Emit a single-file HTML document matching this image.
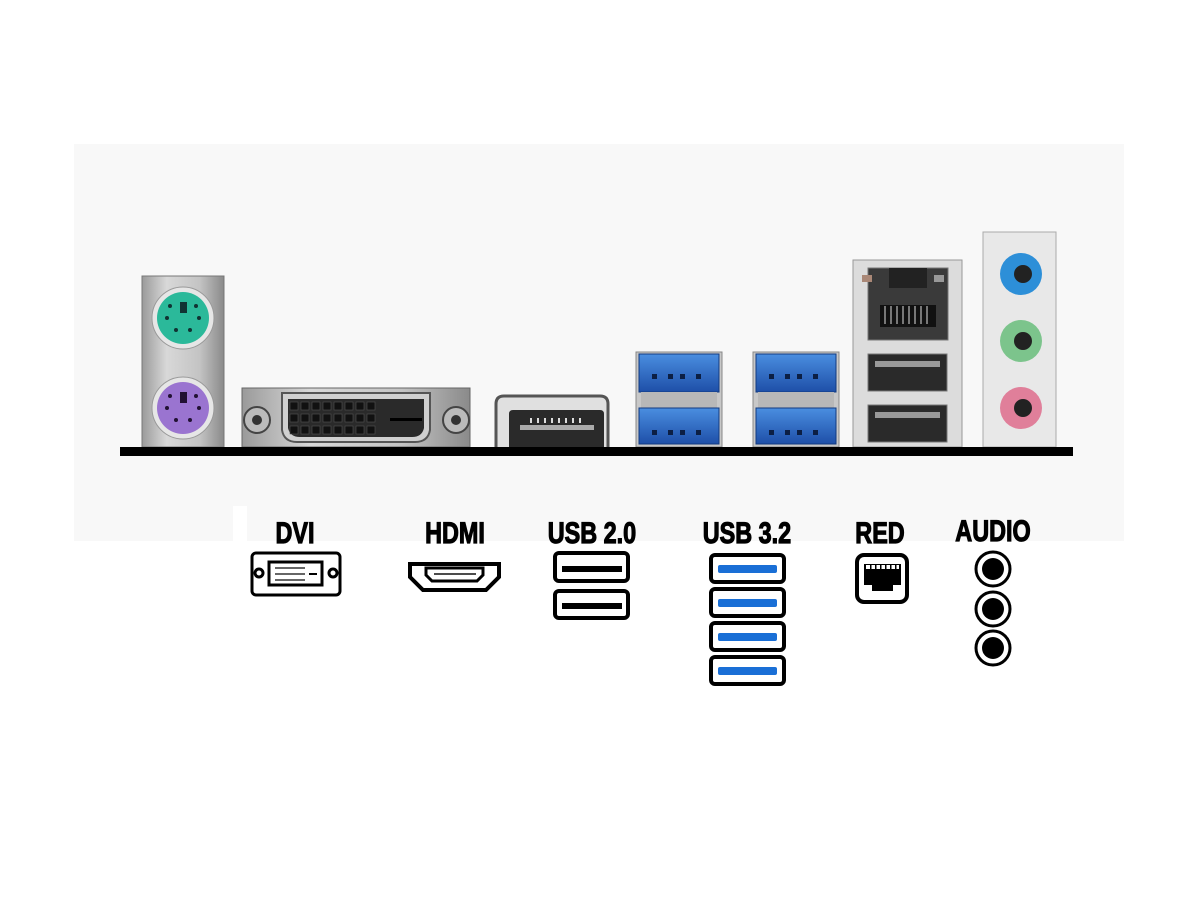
<!DOCTYPE html>
<html><head><meta charset="utf-8"><style>
html,body{margin:0;padding:0;background:#fff;width:1200px;height:900px;overflow:hidden}
text{font-family:"Liberation Sans Narrow","Liberation Sans",sans-serif;font-weight:bold;fill:#000;stroke:#000;stroke-width:1.2}
</style></head><body>
<svg width="1200" height="900" viewBox="0 0 1200 900" xmlns="http://www.w3.org/2000/svg">
<defs>
<linearGradient id="metal" x1="0" x2="1"><stop offset="0" stop-color="#9a9a9a"/><stop offset=".3" stop-color="#d8d8d8"/><stop offset=".7" stop-color="#c4c4c4"/><stop offset="1" stop-color="#8a8a8a"/></linearGradient>
<linearGradient id="blue" x1="0" y1="0" x2="0" y2="1"><stop offset="0" stop-color="#4a8ee0"/><stop offset="1" stop-color="#1e4fa8"/></linearGradient>
</defs>
<rect x="74" y="144" width="1050" height="397" fill="#f8f8f8"/>
<rect x="233" y="506" width="14" height="40" fill="#fff"/>

<rect x="142" y="276" width="82" height="171" fill="url(#metal)" stroke="#777"/>
<circle cx="183" cy="318" r="31" fill="#e6e6e6" stroke="#999"/>
<circle cx="183" cy="318" r="26" fill="#2bb99a"/>
<rect x="180" y="302" width="7" height="11" fill="#133"/>
<g fill="#133"><circle cx="170" cy="306" r="2"/><circle cx="196" cy="306" r="2"/><circle cx="167" cy="318" r="2"/><circle cx="199" cy="318" r="2"/><circle cx="176" cy="330" r="2"/><circle cx="190" cy="330" r="2"/></g>
<circle cx="183" cy="408" r="31" fill="#e6e6e6" stroke="#999"/>
<circle cx="183" cy="408" r="26" fill="#9a74d0"/>
<rect x="180" y="392" width="7" height="11" fill="#213"/>
<g fill="#213"><circle cx="170" cy="396" r="2"/><circle cx="196" cy="396" r="2"/><circle cx="167" cy="408" r="2"/><circle cx="199" cy="408" r="2"/><circle cx="176" cy="420" r="2"/><circle cx="190" cy="420" r="2"/></g>

<rect x="242" y="388" width="228" height="59" fill="url(#metal)" stroke="#666"/>
<circle cx="257" cy="420" r="13" fill="#bbb" stroke="#444" stroke-width="2"/><circle cx="257" cy="420" r="5" fill="#333"/>
<circle cx="456" cy="420" r="13" fill="#bbb" stroke="#444" stroke-width="2"/><circle cx="456" cy="420" r="5" fill="#333"/>
<path d="M282 393 H430 L430 430 Q428 442 415 442 H297 Q284 442 282 430 Z" fill="#d0d0d0" stroke="#555" stroke-width="2"/>
<path d="M288 399 H424 V428 Q422 437 412 437 H300 Q290 437 288 428 Z" fill="#2a2a2a"/>
<g fill="#111" stroke="#555" stroke-width=".6">
<rect x="290" y="402" width="8" height="8"/><rect x="301" y="402" width="8" height="8"/><rect x="312" y="402" width="8" height="8"/><rect x="323" y="402" width="8" height="8"/><rect x="334" y="402" width="8" height="8"/><rect x="345" y="402" width="8" height="8"/><rect x="356" y="402" width="8" height="8"/><rect x="367" y="402" width="8" height="8"/>
<rect x="290" y="414" width="8" height="8"/><rect x="301" y="414" width="8" height="8"/><rect x="312" y="414" width="8" height="8"/><rect x="323" y="414" width="8" height="8"/><rect x="334" y="414" width="8" height="8"/><rect x="345" y="414" width="8" height="8"/><rect x="356" y="414" width="8" height="8"/><rect x="367" y="414" width="8" height="8"/>
<rect x="290" y="426" width="8" height="8"/><rect x="301" y="426" width="8" height="8"/><rect x="312" y="426" width="8" height="8"/><rect x="323" y="426" width="8" height="8"/><rect x="334" y="426" width="8" height="8"/><rect x="345" y="426" width="8" height="8"/><rect x="356" y="426" width="8" height="8"/><rect x="367" y="426" width="8" height="8"/>
</g>
<rect x="390" y="418" width="32" height="3" fill="#000"/>

<path d="M496 447 V404 Q496 396 504 396 H600 Q608 396 608 404 V447" fill="#e0e0e0" stroke="#555" stroke-width="3"/>
<path d="M509 447 V414 Q509 410 513 410 H600 Q604 410 604 414 V447 Z" fill="#2a2a2a"/>
<rect x="520" y="425" width="74" height="5" fill="#aaa"/>
<g fill="#ddd"><rect x="530" y="418" width="2" height="5"/><rect x="537" y="418" width="2" height="5"/><rect x="544" y="418" width="2" height="5"/><rect x="551" y="418" width="2" height="5"/><rect x="558" y="418" width="2" height="5"/><rect x="565" y="418" width="2" height="5"/><rect x="572" y="418" width="2" height="5"/><rect x="579" y="418" width="2" height="5"/></g>

<g id="u3">
<rect x="636" y="352" width="86" height="95" fill="#c8c8c8" stroke="#888"/>
<rect x="639" y="354" width="80" height="38" fill="url(#blue)" stroke="#123a80"/>
<rect x="641" y="392" width="76" height="16" fill="#b8b8b8"/>
<rect x="639" y="408" width="80" height="36" fill="url(#blue)" stroke="#123a80"/>
<g fill="#0c1f44"><rect x="652" y="374" width="5" height="5"/><rect x="668" y="374" width="5" height="5"/><rect x="680" y="374" width="5" height="5"/><rect x="696" y="374" width="5" height="5"/><rect x="652" y="430" width="5" height="5"/><rect x="668" y="430" width="5" height="5"/><rect x="680" y="430" width="5" height="5"/><rect x="696" y="430" width="5" height="5"/></g>
</g>
<use href="#u3" x="117"/>

<rect x="853" y="260" width="109" height="187" fill="#dcdcdc" stroke="#999"/>
<rect x="868" y="268" width="80" height="72" fill="#3a3a3a" stroke="#777"/>
<rect x="889" y="268" width="38" height="20" fill="#222"/>
<rect x="862" y="275" width="10" height="7" fill="#a87"/><rect x="934" y="275" width="10" height="7" fill="#999"/>
<g fill="#111"><rect x="880" y="305" width="56" height="22"/></g>
<g fill="#777"><rect x="884" y="306" width="2" height="18"/><rect x="890" y="306" width="2" height="18"/><rect x="896" y="306" width="2" height="18"/><rect x="902" y="306" width="2" height="18"/><rect x="908" y="306" width="2" height="18"/><rect x="914" y="306" width="2" height="18"/><rect x="920" y="306" width="2" height="18"/><rect x="926" y="306" width="2" height="18"/></g>
<rect x="868" y="354" width="79" height="37" fill="#2a2a2a" stroke="#777"/>
<rect x="875" y="361" width="65" height="6" fill="#999"/>
<rect x="868" y="405" width="79" height="37" fill="#2a2a2a" stroke="#777"/>
<rect x="875" y="412" width="65" height="6" fill="#999"/>

<rect x="983" y="232" width="73" height="215" fill="#e8e8e8" stroke="#aaa"/>
<circle cx="1021" cy="274" r="21" fill="#2d8fd8"/><circle cx="1023" cy="274" r="9" fill="#222"/>
<circle cx="1021" cy="341" r="21" fill="#7cc48c"/><circle cx="1023" cy="341" r="9" fill="#222"/>
<circle cx="1021" cy="408" r="21" fill="#e07f9a"/><circle cx="1023" cy="408" r="9" fill="#222"/>

<rect x="120" y="447" width="953" height="9" fill="#000"/>

<g font-size="30">
<text x="295" y="543" text-anchor="middle" transform="translate(295 0) scale(.78 1) translate(-295 0)">DVI</text>
<text x="455" y="543" text-anchor="middle" transform="translate(455 0) scale(.78 1) translate(-455 0)">HDMI</text>
<text x="592" y="543" text-anchor="middle" transform="translate(592 0) scale(.78 1) translate(-592 0)">USB 2.0</text>
<text x="747" y="543" text-anchor="middle" transform="translate(747 0) scale(.78 1) translate(-747 0)">USB 3.2</text>
<text x="880" y="543" text-anchor="middle" transform="translate(880 0) scale(.78 1) translate(-880 0)">RED</text>
<text x="993" y="541" text-anchor="middle" transform="translate(993 0) scale(.78 1) translate(-993 0)">AUDIO</text>
</g>

<g fill="none" stroke="#000" stroke-width="3">
<rect x="252" y="553" width="88" height="42" rx="4"/>
<rect x="269" y="562" width="53" height="23"/>
<circle cx="259" cy="573" r="4"/><circle cx="333" cy="573" r="4"/>
<path d="M410 564 H499 V577 L486 590 H423 L410 577 Z" stroke-width="4"/>
<path d="M426 568 H483 V575 L477 581 H432 L426 575 Z" stroke-width="3"/>
<rect x="555" y="553" width="73" height="28" rx="4" stroke-width="4"/>
<rect x="555" y="591" width="73" height="27" rx="4" stroke-width="4"/>
<rect x="711" y="555" width="73" height="27" rx="4" stroke-width="4"/>
<rect x="711" y="589" width="73" height="27" rx="4" stroke-width="4"/>
<rect x="711" y="623" width="73" height="27" rx="4" stroke-width="4"/>
<rect x="711" y="657" width="73" height="27" rx="4" stroke-width="4"/>
<rect x="857" y="555" width="50" height="47" rx="7" stroke-width="4"/>
<circle cx="993" cy="569" r="17"/><circle cx="993" cy="609" r="17"/><circle cx="993" cy="648" r="17"/>
</g>
<g fill="#000">
<rect x="562" y="566" width="60" height="6"/><rect x="562" y="603" width="60" height="6"/>
<path d="M864 564 H901 V585 H893 V591 H872 V585 H864 Z"/>
<circle cx="993" cy="569" r="11"/><circle cx="993" cy="609" r="11"/><circle cx="993" cy="648" r="11"/>
</g>
<g fill="#fff"><rect x="866" y="565" width="33" height="4"/></g>
<g fill="#000"><rect x="870" y="565" width="1.5" height="4"/><rect x="875" y="565" width="1.5" height="4"/><rect x="880" y="565" width="1.5" height="4"/><rect x="885" y="565" width="1.5" height="4"/><rect x="890" y="565" width="1.5" height="4"/><rect x="895" y="565" width="1.5" height="4"/></g>
<g fill="#000">
<rect x="275" y="567" width="30" height="2" opacity=".6"/><rect x="275" y="573" width="30" height="2" opacity=".6"/><rect x="275" y="579" width="30" height="2" opacity=".6"/><rect x="309" y="573" width="8" height="2"/>
<rect x="434" y="573" width="42" height="2" opacity=".7"/>
</g>
<g fill="#1a6fd6">
<rect x="718" y="565" width="59" height="8" rx="2"/><rect x="718" y="599" width="59" height="8" rx="2"/><rect x="718" y="633" width="59" height="8" rx="2"/><rect x="718" y="667" width="59" height="8" rx="2"/>
</g>
</svg>
</body></html>
